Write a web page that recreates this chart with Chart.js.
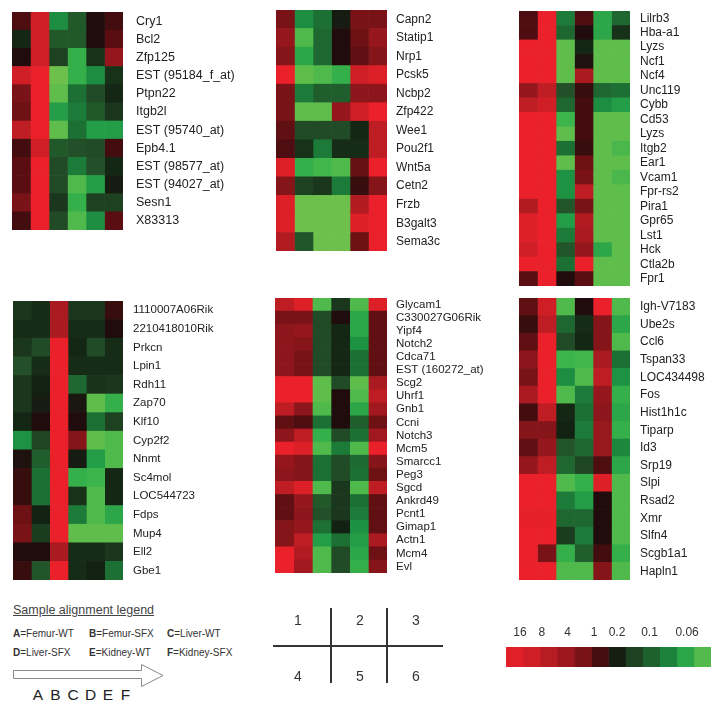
<!DOCTYPE html>
<html>
<head>
<meta charset="utf-8">
<script src="https://cdn.jsdelivr.net/npm/chart.js@4.4.0/dist/chart.umd.min.js"></script>
<style>
body { margin:0; background:#fff; width:725px; height:709px; position:relative; overflow:hidden; font-family:"Liberation Sans", Arial, sans-serif; color:#333; }
canvas { position:absolute; }
.t { position:absolute; white-space:nowrap; }
</style>
</head>
<body>
<canvas id="p1" width="229" height="218" style="left:12px;top:12px"></canvas>
<canvas id="p2" width="211" height="241" style="left:276px;top:10px"></canvas>
<canvas id="p3" width="203" height="275" style="left:519px;top:11px"></canvas>
<canvas id="p4" width="230" height="279" style="left:13px;top:301px"></canvas>
<canvas id="p5" width="227" height="275" style="left:275px;top:298px"></canvas>
<canvas id="p6" width="203" height="282" style="left:519px;top:298px"></canvas>
<canvas id="scale" width="205" height="42" style="left:506px;top:625px"></canvas>

<div class="t" style="left:13px;top:602px;font-size:12.5px;line-height:16px;text-decoration:underline;color:#444">Sample alignment legend</div>
<div id="sampleKey"></div>
<svg style="position:absolute;left:0;top:0" width="725" height="709">
  <polygon points="13.5,670.5 141.5,670.5 141.5,664.5 163,675.5 141.5,686.5 141.5,678.5 13.5,678.5" fill="#fff" stroke="#888" stroke-width="1"/>
  <line x1="273" y1="646" x2="443" y2="646" stroke="#333" stroke-width="2"/>
  <line x1="331" y1="608" x2="331" y2="683" stroke="#333" stroke-width="2"/>
  <line x1="387" y1="608" x2="387" y2="683" stroke="#333" stroke-width="2"/>
</svg>
<div id="panelKey"></div>

<script>
// samples (columns of every panel)
const samples = ['A', 'B', 'C', 'D', 'E', 'F']
const sampleNames = ['Femur-WT', 'Femur-SFX', 'Liver-WT', 'Liver-SFX', 'Kidney-WT', 'Kidney-SFX']

// values are log2 fold change, +4 = 16x (red) ... -4 = 0.06x (green)
const genes1 = ['Cry1', 'Bcl2', 'Zfp125', 'EST (95184_f_at)', 'Ptpn22', 'Itgb2l', 'EST (95740_at)', 'Epb4.1', 'EST (98577_at)', 'EST (94027_at)', 'Sesn1', 'X83313']
const fold1 = [
  [0.4, 3, -2.5, -1.5, 0, 0.3],
  [-0.5, 3, -1.5, -1.5, 0, 0.5],
  [0, 3, -1, -3.2, -0.7, 1.5],
  [3, 4, -4, -3.2, -2.5, -0.7],
  [1, 4, -3.8, -2, -1.2, -0.5],
  [0.8, 4, -2.8, -2.2, -1.5, -0.8],
  [2.5, 4, -3.8, -2, -2.8, -2.8],
  [0.3, 3, -1.5, -1.3, -1.2, 0.3],
  [0.5, 4, -1.2, -2.2, -1.3, -0.5],
  [0.5, 4, -1.2, -3.6, -2.8, -0.3],
  [1, 4, -0.8, -3.2, -1, -1],
  [0.3, 4, -1.2, -3.6, -2.5, 0.5]
]

const genes2 = ['Capn2', 'Statip1', 'Nrp1', 'Pcsk5', 'Ncbp2', 'Zfp422', 'Wee1', 'Pou2f1', 'Wnt5a', 'Cetn2', 'Frzb', 'B3galt3', 'Sema3c']
const fold2 = [
  [1, -2.5, -2, -0.3, 1, 1],
  [1.5, -3.6, -1.8, 0, 0.8, 1.5],
  [1.2, -3, -1.8, 0, 0.6, 1.2],
  [4, -3.8, -3.6, -3.2, 3, 3.5],
  [1, -2.2, -1.6, -1.6, 1.3, 1.3],
  [1, -3.8, -3.8, 1.5, 3, 4],
  [0.6, -1.2, -1.2, -1.2, -0.5, 2.5],
  [0.4, -0.7, -2.2, -0.6, -0.6, 2.5],
  [3.5, -3.2, -3.4, -3.6, 0.7, 4],
  [1.2, -1, -0.8, -2.2, 0.2, 1.2],
  [3.5, -4, -4, -4, 2.2, 4],
  [3.5, -4, -4, -4, 3.5, 4],
  [2.2, -1.4, -4, -4, 0.8, 4]
]

const genes3 = ['Lilrb3', 'Hba-a1', 'Lyzs', 'Ncf1', 'Ncf4', 'Unc119', 'Cybb', 'Cd53', 'Lyzs', 'Itgb2', 'Ear1', 'Vcam1', 'Fpr-rs2', 'Pira1', 'Gpr65', 'Lst1', 'Hck', 'Ctla2b', 'Fpr1']
const fold3 = [
  [0.4, 4, -2.2, 0.4, -3, -1.8],
  [0.4, 4, -1.8, 0, -3, -0.7],
  [4, 4, -3.8, -0.5, -3.8, -3.8],
  [4, 4, -3.8, -0.1, -3.8, -3.8],
  [4, 4, -3.8, 2, -3.8, -3.8],
  [1.5, 2.5, -1.3, 0.2, -1.8, -2],
  [2.5, 3, -1.8, 0.3, -2.5, -2.8],
  [4, 4, -3.3, 0.3, -3.8, -3.8],
  [4, 4, -3.8, 0.3, -3.8, -3.8],
  [4, 4, -2, 0.2, -3.8, -3.5],
  [4, 4, -3.8, 0.8, -3.8, -3.8],
  [4, 4, -2.6, 1, -3.8, -3.5],
  [4, 4, -2.6, 2.5, -3.8, -3.8],
  [2.2, 4, -1.4, 1, -3.8, -3.8],
  [3.5, 4, -2.8, 2.2, -3.8, -3.8],
  [3.5, 4, -2.2, 2, -3.8, -3.8],
  [3, 4, -1.4, 1.5, -3, -3.8],
  [4, 4, -2, 4, -3.8, -3.8],
  [0.5, 4, 0, 0.5, -3.8, -3.8]
]

const genes4 = ['1110007A06Rik', '2210418010Rik', 'Prkcn', 'Lpin1', 'Rdh11', 'Zap70', 'Klf10', 'Cyp2f2', 'Nnmt', 'Sc4mol', 'LOC544723', 'Fdps', 'Mup4', 'Ell2', 'Gbe1']
const fold4 = [
  [-0.8, -0.6, 2, -0.8, -0.8, 0.2],
  [-0.6, -0.6, 2, -0.6, -0.6, 0],
  [-0.8, -1.2, 4, -0.5, -1.2, -0.6],
  [-1.3, -0.6, 4, -0.6, -0.6, -0.6],
  [-0.8, -0.4, 4, -1.8, -0.7, -0.8],
  [-0.8, -0.3, 4, -0.2, -3.8, -3.2],
  [-0.5, 0, 4, 0, -2, -1],
  [-2.6, -1.1, 4, 1.2, -3.8, -3.6],
  [-0.1, -1.6, 4, -0.3, -2.8, -3.6],
  [0.2, -2, 4, -3.2, -3.3, -0.5],
  [0.2, -2, 4, -0.7, -3.6, -0.5],
  [0.8, -0.4, 4, -2.2, -3.6, -3],
  [1, -0.9, 4, -3.8, -3.8, -3.8],
  [0, 0, 2, -0.6, -0.6, -0.8],
  [0.2, -1.4, 4, -0.6, -0.4, -2]
]

const genes5 = ['Glycam1', 'C330027G06Rik', 'Yipf4', 'Notch2', 'Cdca71', 'EST (160272_at)', 'Scg2', 'Uhrf1', 'Gnb1', 'Ccni', 'Notch3', 'Mcm5', 'Smarcc1', 'Peg3', 'Sgcd', 'Ankrd49', 'Pcnt1', 'Gimap1', 'Actn1', 'Mcm4', 'Evl']
const fold5 = [
  [2.5, 3.5, -3.6, -0.8, -3.6, 3.5],
  [1, 1, -1.2, 0, -3, 0.6],
  [1.3, 1.5, -1.2, -0.5, -3, 0.6],
  [1.3, 1.2, -1.2, -0.5, -2.6, 0.6],
  [1.3, 1, -1.2, -0.5, -2, 0.6],
  [1.3, 1, -1.2, -0.5, -2, 0.6],
  [4, 4, -3.8, -1.2, -3.8, 2],
  [4, 4, -3.8, 0, -3.6, 2.5],
  [2.5, 1.3, -3.6, 0, -3, 1.8],
  [0.6, 0.4, -2, 0, -1.6, 0.8],
  [1.3, 2.5, -3.2, -1.2, -2, 1.8],
  [4, 3.5, -3.6, -2.2, -3.6, 4],
  [1.5, 1.2, -2, -1.2, -1.9, 1.2],
  [1.3, 1.2, -2, -1.2, -2, 0.8],
  [2.5, 3.5, -3.6, -0.8, -3.6, 2.5],
  [0.6, 1.5, -1.5, -0.8, -2, 0.6],
  [0.6, 1.3, -1.3, -0.8, -2.2, 0.6],
  [1.2, 1.5, -2, -0.4, -2.6, 0.6],
  [1.2, 2.5, -2.8, -2, -2.8, 2],
  [4, 2.2, -3.6, -1.2, -3, 0.8],
  [4, 1.8, -3.6, -1.2, -3.2, 1.2]
]

const genes6 = ['Igh-V7183', 'Ube2s', 'Ccl6', 'Tspan33', 'LOC434498', 'Fos', 'Hist1h1c', 'Tiparp', 'Id3', 'Srp19', 'Slpi', 'Rsad2', 'Xmr', 'Slfn4', 'Scgb1a1', 'Hapln1']
const fold6 = [
  [0.6, 3, -3.6, 0, 4, -3.6],
  [0.2, 2.5, -1.8, -0.6, 1.2, -3],
  [0.6, 4, -1.2, -0.5, 1.2, -3.6],
  [1.3, 4, -3.3, -3.4, 2, -2],
  [1, 4, -2.5, -3.6, 2.5, -2.6],
  [2, 4, -3.6, -2.2, 1.5, -3.2],
  [0.3, 2.5, -0.5, -2, 1.3, -3],
  [1.2, 1.2, -0.4, -2.2, 1.6, -3.2],
  [0.6, 1.5, -1.4, -1.8, 1.6, -2.4],
  [1.5, 2.5, -1.8, -1.1, 0.4, -3],
  [4, 4, -3.6, -3.2, 3.5, -3.6],
  [4, 4, -2.2, -2.8, 0, -3.6],
  [3.8, 3.8, -1.8, -1.8, 0, -3.6],
  [4, 4, -0.9, -2.2, 0, -3.6],
  [4, 1, -3.2, -1.6, 0.3, -3.2],
  [4, 4, -3.6, -3.6, 1.2, -3.6]
]

// colour key
const keyLevels = [3.67, 3, 2.33, 1.67, 1, 0.33, -0.33, -1, -1.67, -2.33, -3, -3.67]
const keyLabels = ['16', '8', '4', '1', '0.2', '0.1', '0.06']

Chart.defaults.font.family = '"Liberation Sans", Arial, sans-serif'
Chart.defaults.color = '#222'

const stops = [
  [4, [234, 32, 42]],
  [2.7, [200, 30, 38]],
  [1.3, [140, 22, 27]],
  [0.5, [90, 14, 18]],
  [0, [32, 12, 12]],
  [-0.4, [18, 34, 18]],
  [-1.3, [35, 80, 40]],
  [-2, [28, 112, 52]],
  [-2.7, [30, 152, 70]],
  [-3.3, [58, 180, 75]],
  [-4, [110, 192, 76]]
]

function foldColor(v) {
  if (v >= stops[0][0]) return 'rgb(' + stops[0][1].join(',') + ')'
  for (let i = 0; i < stops.length - 1; i++) {
    let [v0, c0] = stops[i]
    let [v1, c1] = stops[i + 1]
    if (v <= v0 && v >= v1) {
      let t = (v0 - v) / (v0 - v1)
      let c = c0.map((x, k) => Math.round(x + (c1[k] - x) * t))
      return 'rgb(' + c.join(',') + ')'
    }
  }
  return 'rgb(' + stops[stops.length - 1][1].join(',') + ')'
}

function heatmap(id, genes, fold, labelW, pad, size) {
  let datasets = samples.map((s, j) => ({
    label: s,
    data: genes.map(() => 1),
    backgroundColor: fold.map(row => foldColor(row[j])),
    borderWidth: 0,
    barPercentage: 1,
    categoryPercentage: 1
  }))
  return new Chart(document.getElementById(id), {
    type: 'bar',
    data: { labels: genes, datasets: datasets },
    options: {
      indexAxis: 'y',
      responsive: false,
      animation: false,
      layout: { padding: 0 },
      plugins: { legend: { display: false }, tooltip: { enabled: false } },
      scales: {
        x: { stacked: true, display: false, min: 0, max: 6 },
        y: {
          stacked: true,
          position: 'right',
          grid: { display: false, drawTicks: false },
          border: { display: false },
          ticks: { autoSkip: false, padding: pad, color: '#222', font: { size: size } },
          afterFit(scale) {
            scale.width = labelW
            scale.paddingTop = 0
            scale.paddingBottom = 0
          }
        }
      }
    }
  })
}

heatmap('p1', genes1, fold1, 118, 13, 12.5)
heatmap('p2', genes2, fold2, 100, 9, 12)
heatmap('p3', genes3, fold3, 92, 10, 12)
heatmap('p4', genes4, fold4, 120, 10, 11.5)
heatmap('p5', genes5, fold5, 115, 9, 11.5)
heatmap('p6', genes6, fold6, 92, 10, 12)

// colour key bar
const keyTickPos = [0.82, 2.1, 3.6, 5.15, 6.5, 8.4, 10.6]
new Chart(document.getElementById('scale'), {
  type: 'bar',
  data: {
    labels: [''],
    datasets: keyLevels.map(v => ({ data: [1], backgroundColor: foldColor(v), borderWidth: 0, barPercentage: 1, categoryPercentage: 1 }))
  },
  options: {
    indexAxis: 'y',
    responsive: false,
    animation: false,
    layout: { padding: 0 },
    plugins: { legend: { display: false }, tooltip: { enabled: false } },
    scales: {
      y: { stacked: true, display: false },
      x: {
        stacked: true, position: 'top', min: 0, max: keyLevels.length,
        grid: { display: false, drawTicks: false },
        border: { display: false },
        ticks: { padding: 7, color: '#333', font: { size: 12 }, maxRotation: 0, autoSkip: false, callback: (v, i) => keyLabels[i] },
        afterBuildTicks(scale) { scale.ticks = keyTickPos.map(v => ({ value: v })) },
        afterFit(scale) { scale.height = 22; scale.paddingLeft = 0; scale.paddingRight = 0 }
      }
    }
  }
})

// sample key text
let keyBox = document.getElementById('sampleKey')
let colX = [13, 89, 167]
samples.forEach((s, i) => {
  let d = document.createElement('div')
  d.className = 't'
  d.style.cssText = 'left:' + colX[i % 3] + 'px;top:' + (i < 3 ? 628 : 647) + 'px;font-size:10px;line-height:12px;color:#333'
  d.innerHTML = '<b>' + s + '</b>=' + sampleNames[i]
  keyBox.appendChild(d)
})
samples.forEach((s, i) => {
  let d = document.createElement('div')
  d.className = 't'
  d.style.cssText = 'left:' + (29 + i * 17.5) + 'px;top:686px;width:18px;text-align:center;font-size:15.5px;line-height:18px;color:#222'
  d.textContent = s
  keyBox.appendChild(d)
})

// panel position key
let pk = document.getElementById('panelKey')
let numX = [298, 360, 416]
for (let n = 1; n <= 6; n++) {
  let d = document.createElement('div')
  d.className = 't'
  d.style.cssText = 'left:' + (numX[(n - 1) % 3] - 10) + 'px;top:' + (n <= 3 ? 611 : 667) + 'px;width:20px;text-align:center;font-size:14px;line-height:18px;color:#333'
  d.textContent = n
  pk.appendChild(d)
}
</script>
</body>
</html>
